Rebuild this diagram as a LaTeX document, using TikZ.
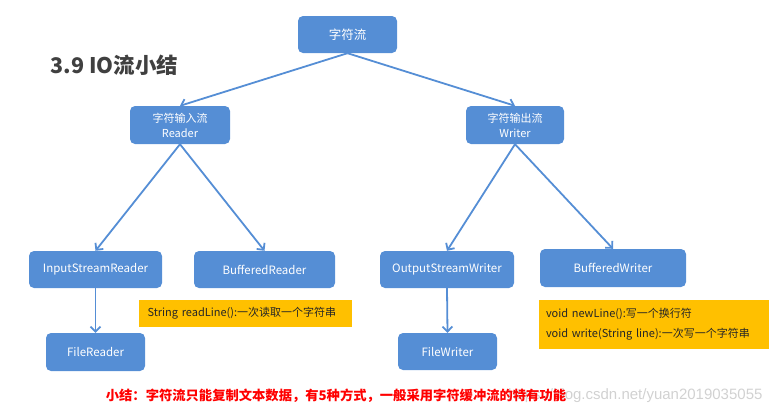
\documentclass[tikz,border=0pt]{standalone}
\usepackage{fontspec}
\setmainfont{Noto Sans CJK SC}
\newfontfamily\wmfont{Liberation Sans}
\usetikzlibrary{arrows.meta}
\definecolor{boxblue}{RGB}{85,142,213}
\definecolor{noteyellow}{RGB}{255,192,0}
\definecolor{titlegray}{RGB}{64,64,64}
\tikzset{
  bluebox/.style={draw=none, fill=boxblue, rounded corners=5pt, text=white, font=\fontsize{11.5}{13}\selectfont, align=center, inner sep=0pt},
  twoline/.style={font=\fontsize{11}{15}\selectfont},
  notebox/.style={fill=noteyellow, inner sep=0pt, font=\fontsize{11}{13}\selectfont, text=black!85, align=left},
  link/.style={draw=boxblue, line width=1.8pt, -{Straight Barb[length=5pt,width=10pt,line width=1.8pt]}}
}
\begin{document}
\begin{tikzpicture}[x=1pt,y=-1pt]
\useasboundingbox (0,0) rectangle (777,416);
\node[bluebox, minimum width=99pt, minimum height=37pt, font=\fontsize{12.5}{14}\selectfont] (root) at (347.5,34.5) {字符流};
\node[font=\fontsize{21.5}{24}\selectfont\bfseries, text=titlegray] (title) at (114.5,65) {3.9 IO流小结};
\node[bluebox, twoline, minimum width=100pt, minimum height=38pt] (reader) at (180,125) {字符输入流\\Reader};
\node[bluebox, twoline, minimum width=98pt, minimum height=38pt] (writer) at (515,125) {字符输出流\\Writer};
\node[bluebox, minimum width=133pt, minimum height=37pt] (isr) at (95.5,269.5) {InputStreamReader};
\node[bluebox, minimum width=141pt, minimum height=37pt] (br) at (264.5,269.5) {BufferedReader};
\node[bluebox, minimum width=134pt, minimum height=37pt] (osw) at (447,269.5) {OutputStreamWriter};
\node[bluebox, minimum width=146pt, minimum height=38pt] (bw) at (613,268) {BufferedWriter};
\node[bluebox, minimum width=99pt, minimum height=38pt] (fr) at (95.5,352) {FileReader};
\node[bluebox, minimum width=99pt, minimum height=37pt] (fw) at (447.5,351.5) {FileWriter};
\node[notebox, minimum width=213pt, minimum height=27pt, text width=196pt] (note1) at (245.5,313.5) {String readLine():一次读取一个字符串};
\node[notebox, minimum width=230pt, minimum height=49pt, text width=216pt, font=\fontsize{11}{20}\selectfont] (note2) at (654,324.5) {void newLine():写一个换行符\\void write(String line):一次写一个字符串};
\node[font=\wmfont\fontsize{15}{18}\selectfont, text=black!18, anchor=east] (wm) at (766,396) {https://blog.csdn.net/yuan2019035055};
\node[font=\fontsize{13.3}{16}\selectfont\bfseries, text=red] (summary) at (336,396) {小结：字符流只能复制文本数据，有5种方式，一般采用字符缓冲流的特有功能};
\draw[link] (root.south) -- (reader.north);
\draw[link] (root.south) -- (writer.north);
\draw[link] (reader.south) -- (isr.north);
\draw[link] (reader.south) -- (br.north);
\draw[link] (writer.south) -- (osw.north);
\draw[link] (writer.south) -- (bw.north);
\draw[link] (isr.south) -- (fr.north);
\draw[link] (osw.south) -- (fw.north);
\end{tikzpicture}
\end{document}
